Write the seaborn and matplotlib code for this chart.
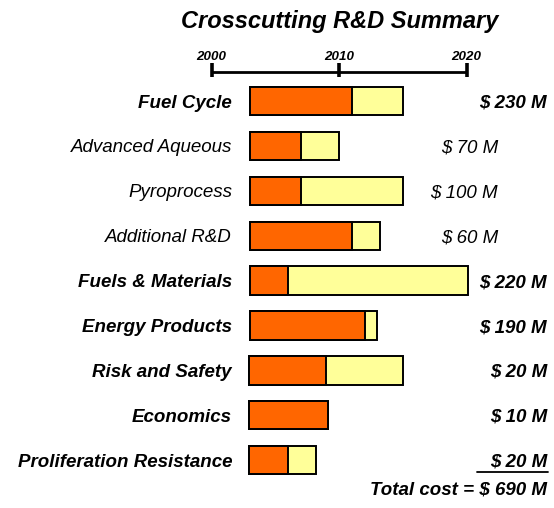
import matplotlib
matplotlib.use("Agg")
import matplotlib.pyplot as plt
import numpy as np
import pandas as pd
import seaborn as sns

# Programme areas, schedule (years) and cost figures
categories = ["Fuel Cycle", "Advanced Aqueous", "Pyroprocess", "Additional R&D",
              "Fuels & Materials", "Energy Products", "Risk and Safety",
              "Economics", "Proliferation Resistance"]
start_year = [2003, 2003, 2003, 2003, 2003, 2003, 2002.9, 2002.9, 2002.9]
phase1_end = [2011, 2007, 2007, 2011, 2006, 2012, 2009, 2009.1, 2006]
phase2_end = [2015, 2010, 2015, 2013.2, 2020.1, 2013, 2015, 2009.1, 2008.2]
cost_labels = ["$ 230 M", "$ 70 M", "$ 100 M", "$ 60 M", "$ 220 M",
               "$ 190 M", "$ 20 M", "$ 10 M", "$ 20 M"]
is_main_item = [True, False, False, False, True, True, True, True, True]
total_label = "Total cost = $ 690 M"
year_ticks = [2000, 2010, 2020]
title = "Crosscutting R&D Summary"

ORANGE = "#FF6600"
YELLOW = "#FFFF99"
FONT = "Liberation Sans"

sns.set_theme(style="white")
plt.rcParams["font.family"] = [FONT, "DejaVu Sans"]
plt.rcParams["text.color"] = "black"

df = pd.DataFrame({
    "area": categories,
    "start": start_year,
    "mid": phase1_end,
    "end": phase2_end,
})
df["total_span"] = df["end"] - df["start"]
df["phase1_span"] = df["mid"] - df["start"]

fig = plt.figure(figsize=(5.54, 5.08), dpi=100)
ax = fig.add_axes([0, 0, 1, 1])

bar_kw = dict(orient="h", edgecolor="black", linewidth=1.4, width=0.63,
              order=categories, ax=ax)

# full schedule (yellow), then first phase (orange) on top
sns.barplot(data=df, x="total_span", y="area", color=YELLOW, saturation=1, **bar_kw)
n = len(categories)
for patch, s in zip(ax.patches[:n], df["start"]):
    patch.set_x(s)
sns.barplot(data=df, x="phase1_span", y="area", color=ORANGE, saturation=1, **bar_kw)
for patch, s in zip(ax.patches[n:2 * n], df["start"]):
    patch.set_x(s)

# horizontal extent: 2000 -> 211.7 px, 12.75 px per year
px_per_year = 12.75
x0 = 2000 - 211.7 / px_per_year
x1 = 2000 + (554 - 211.7) / px_per_year
ax.set_xlim(x0, x1)
# vertical extent: row i centred at 101 + 44.9*i px
row_px = 44.9
ax.set_ylim((508 - 101) / row_px, -101 / row_px)
ax.axis("off")

def ypix(p):
    return (p - 101) / row_px

def xpix(p):
    return 2000 + (p - 211.7) / px_per_year

base_off = 6.5 / row_px  # text baseline sits a little below the row centre

# timeline scale at the top
axis_y = ypix(72)
ax.plot([year_ticks[0], year_ticks[-1]], [axis_y, axis_y], color="black",
        lw=2.0, solid_capstyle="butt", clip_on=False)
for yr in year_ticks:
    ax.plot([yr, yr], [ypix(63), ypix(77)], color="black", lw=2.6,
            solid_capstyle="butt", clip_on=False)
    ax.text(yr, ypix(60.5), str(yr), ha="center", va="baseline", fontsize=9.6,
            fontweight="bold", style="italic")

ax.text(2010, ypix(27.7), title, ha="center", va="baseline", fontsize=17,
        fontweight="bold", style="italic")

# row labels and costs
for i, (name, cost, main) in enumerate(zip(categories, cost_labels, is_main_item)):
    weight = "bold" if main else "normal"
    ax.text(xpix(232), i + base_off, name, ha="right", va="baseline",
            fontsize=13.5, fontweight=weight, style="italic")
    cx = xpix(547) if main else xpix(498)
    ax.text(cx, i + base_off, cost, ha="right", va="baseline", fontsize=13.5,
            fontweight=weight, style="italic")

ax.plot([xpix(477), xpix(548)], [ypix(472.5), ypix(472.5)], color="black", lw=1.3)
ax.text(xpix(547), ypix(495), total_label, ha="right", va="baseline",
        fontsize=13.5, fontweight="bold", style="italic")

fig.savefig("out.png", dpi=100)
